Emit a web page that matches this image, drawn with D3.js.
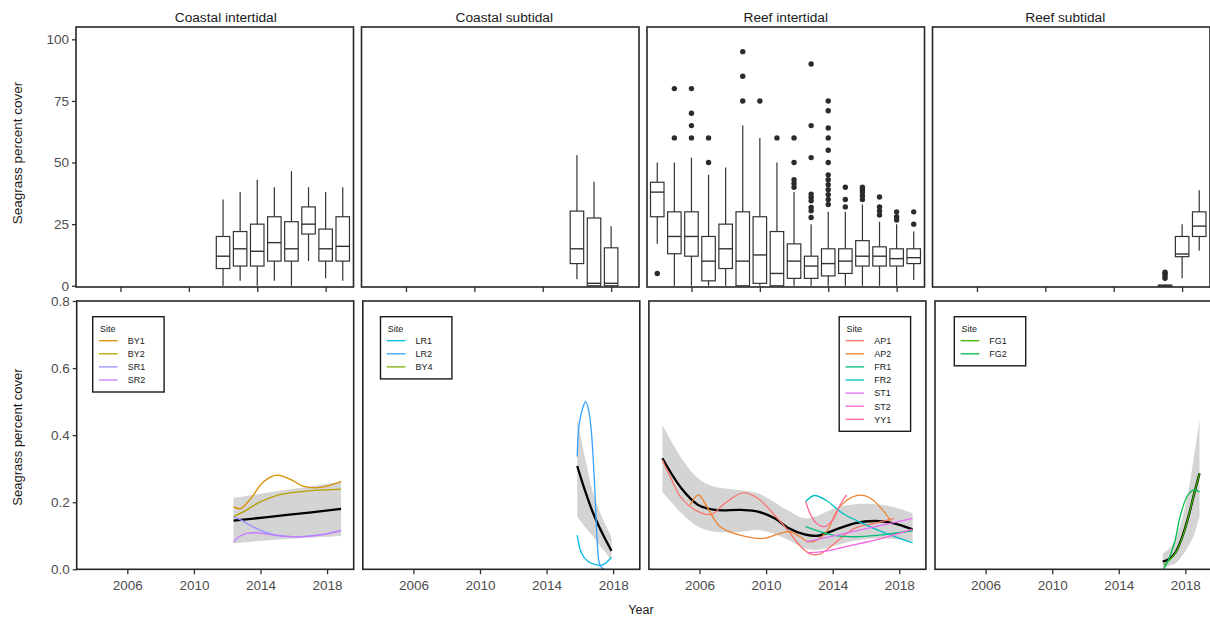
<!DOCTYPE html>
<html>
<head>
<meta charset="utf-8">
<script src="https://cdn.jsdelivr.net/npm/d3@7"></script>
<style>
body { margin: 0; background: #fff; }
svg { font-family: "Liberation Sans", Arial, Helvetica, sans-serif; }
.tick line { stroke: #333; }
.tick text { fill: #4d4d4d; font-size: 13.5px; }
</style>
</head>
<body>
<svg id="chart" width="1210" height="618"></svg>
<script>
var habitats = ["Coastal intertidal", "Coastal subtidal", "Reef intertidal", "Reef subtidal"];
var yearTicks = [2006, 2010, 2014, 2018];
var coverTicks = [0, 25, 50, 75, 100];
var propTicks = [0, 0.2, 0.4, 0.6, 0.8];

// box stats per year: [year, lower whisker, q1, median, q3, upper whisker, outliers]
var boxCoastalInter = [
    [2012, 0, 7, 12, 20, 35, []],
    [2013, 2, 8, 15, 22, 38, []],
    [2014, 0, 8, 14, 25, 43, []],
    [2015, 2, 10, 17.5, 28, 40, []],
    [2016, 0, 10, 15, 26, 46.5, []],
    [2017, 10, 21, 25, 32, 40, []],
    [2018, 3, 10, 15, 23, 38, []],
    [2019, 2, 10, 16, 28, 40, []]
];
var boxCoastalSub = [
    [2016, 2.6, 9, 15, 30.3, 53, []],
    [2017, 0, 0, 1, 27.5, 42.2, []],
    [2018, 0, 0, 1, 15.4, 24.2, []]
];
var boxReefInter = [
    [2004, 17, 28, 38, 42, 50, [5]],
    [2005, 0, 13, 20, 30, 50, [60, 80]],
    [2006, 0, 12, 20, 30, 52, [60, 65, 70, 80]],
    [2007, 0, 2, 10, 20, 45, [50, 60]],
    [2008, 0, 7, 15, 25, 48, []],
    [2009, 0, 0, 10, 30, 65, [75, 85, 95]],
    [2010, 0, 1, 12.5, 28, 60, [75]],
    [2011, 0, 0, 5, 22, 50, [60]],
    [2012, 0, 3, 10, 17, 38, [40, 41.5, 43, 50, 60]],
    [2013, 0, 3, 8, 12, 25, [27.7, 30.4, 31.8, 34.5, 35.9, 37.2, 52, 65, 90]],
    [2014, 0, 4, 9, 15, 30, [33, 35, 37, 39, 41, 43, 45, 50, 55, 60, 64, 71, 75]],
    [2015, 0, 5, 10, 15, 30, [32, 35, 40]],
    [2016, 0, 8, 12, 18.3, 33, [35, 36.5, 38, 39, 40]],
    [2017, 0, 8, 12, 15.8, 26, [28.7, 30.4, 32, 36]],
    [2018, 0, 8, 11, 15, 25, [26.7, 28, 30]],
    [2019, 2.3, 9, 11.4, 15, 22, [25, 30]]
];
var boxReefSub = [
    [2017, 0, 0, 0, 0.3, 0.5, [3, 4, 5, 5.5]],
    [2018, 3, 11.8, 12.9, 20, 25, []],
    [2019, 14.2, 20, 24.2, 30, 38.8, []]
];

// smoothed proportion per site: [year, value]
var curveBY1 = [[2012.38,0.186],[2012.8,0.181],[2013.4,0.21],[2014.2,0.262],[2015.0,0.281],[2015.8,0.268],[2016.6,0.247],[2017.3,0.243],[2018.0,0.248],[2018.84,0.262]];
var curveBY2 = [[2012.38,0.157],[2013.1,0.175],[2013.9,0.199],[2014.6,0.214],[2015.3,0.224],[2016.1,0.23],[2016.9,0.234],[2017.9,0.237],[2018.84,0.239]];
var curveSR1 = [[2012.38,0.157],[2012.9,0.145],[2013.5,0.128],[2014.3,0.11],[2015.2,0.1],[2016.3,0.097],[2017.3,0.101],[2018.1,0.107],[2018.84,0.115]];
var curveSR2 = [[2012.38,0.081],[2012.7,0.097],[2013.2,0.107],[2013.7,0.109],[2014.5,0.104],[2015.5,0.098],[2016.5,0.097],[2017.5,0.101],[2018.84,0.116]];
var curveLR1 = [[2015.84,0.102],[2016.1,0.048],[2016.5,0.023],[2017.0,0.013],[2017.4,0.014],[2017.9,0.036]];
var curveLR2 = [[2015.84,0.336],[2016.0,0.445],[2016.36,0.5],[2016.56,0.465],[2016.7,0.405],[2016.9,0.236],[2017.04,0.087],[2017.2,0.013],[2017.45,0.0]];
var curveBY4 = [];
var curveAP1 = [[2003.77,0.326],[2004.3,0.27],[2004.92,0.212],[2005.92,0.172],[2006.72,0.164],[2007.52,0.197],[2008.62,0.228],[2009.5,0.212],[2010.5,0.162],[2011.3,0.117],[2012.1,0.067],[2012.7,0.045],[2013.3,0.047],[2014.1,0.077],[2015.3,0.122],[2016.5,0.137],[2017.7,0.152]];
var curveAP2 = [[2005.44,0.192],[2005.94,0.222],[2006.44,0.187],[2007.24,0.127],[2008.44,0.102],[2009.84,0.092],[2010.84,0.107],[2011.44,0.112],[2012.04,0.097],[2012.54,0.082],[2013.04,0.087],[2013.63,0.112],[2014.43,0.187],[2015.43,0.22],[2016.2,0.214],[2017.0,0.177],[2017.5,0.142]];
var curveFR1 = [[2012.37,0.127],[2014.0,0.102],[2015.4,0.097],[2016.8,0.102],[2018.8,0.115]];
var curveFR2 = [[2012.37,0.202],[2012.9,0.22],[2013.6,0.206],[2014.6,0.167],[2015.8,0.137],[2017.2,0.107],[2018.8,0.079]];
var curveST1 = [[2012.4,0.082],[2014.0,0.099],[2015.6,0.117],[2017.2,0.134],[2018.8,0.152]];
var curveST2 = [[2012.5,0.05],[2013.3,0.052],[2015.0,0.07],[2017.0,0.093],[2018.8,0.12]];
var curveYY1 = [[2012.37,0.202],[2012.7,0.16],[2013.03,0.137],[2013.5,0.127],[2014.0,0.147],[2014.5,0.197],[2014.83,0.222]];
var curveFG1 = [[2016.7,0.012],[2017.0,0.025],[2017.4,0.048],[2017.8,0.093],[2018.2,0.16],[2018.5,0.22],[2018.85,0.286]];
var curveFG2 = [[2016.7,0.0],[2017.0,0.03],[2017.35,0.08],[2017.7,0.16],[2018.1,0.217],[2018.5,0.237],[2018.85,0.231]];

// overall smoother per habitat: [year, fit, lower, upper]
var fitCoastalInter = [[2012.38,0.145,0.078,0.213],[2015.6,0.162,0.09,0.237],[2018.84,0.18,0.099,0.261]];
var fitCoastalSub = [[2015.84,0.308,0.157,0.45],[2016.3,0.236,0.127,0.336],[2016.8,0.167,0.097,0.227],[2017.4,0.102,0.058,0.147],[2017.9,0.055,0.028,0.097]];
var fitReefInter = [[2003.77,0.331,0.231,0.43],[2004.92,0.241,0.167,0.331],[2005.92,0.192,0.127,0.271],[2006.92,0.177,0.112,0.246],[2008.51,0.177,0.112,0.236],[2009.51,0.172,0.117,0.227],[2010.51,0.152,0.105,0.2],[2011.31,0.124,0.088,0.175],[2012.31,0.104,0.063,0.152],[2013.11,0.1,0.058,0.16],[2014.1,0.117,0.07,0.182],[2015.3,0.137,0.085,0.194],[2016.5,0.144,0.092,0.194],[2017.7,0.137,0.09,0.185],[2018.8,0.119,0.082,0.167]];
var fitReefSub = [[2016.64,0.023,0.003,0.048],[2017.0,0.03,0.01,0.06],[2017.4,0.05,0.018,0.09],[2017.8,0.095,0.04,0.15],[2018.2,0.16,0.07,0.24],[2018.5,0.22,0.1,0.33],[2018.85,0.286,0.157,0.445]];

var boxes = [boxCoastalInter, boxCoastalSub, boxReefInter, boxReefSub];
var fits = [fitCoastalInter, fitCoastalSub, fitReefInter, fitReefSub];
var siteNames = [["BY1","BY2","SR1","SR2"], ["LR1","LR2","BY4"], ["AP1","AP2","FR1","FR2","ST1","ST2","YY1"], ["FG1","FG2"]];
var siteCurves = {BY1: curveBY1, BY2: curveBY2, SR1: curveSR1, SR2: curveSR2, LR1: curveLR1, LR2: curveLR2, BY4: curveBY4,
    AP1: curveAP1, AP2: curveAP2, FR1: curveFR1, FR2: curveFR2, ST1: curveST1, ST2: curveST2, YY1: curveYY1, FG1: curveFG1, FG2: curveFG2};

// colours (ggplot hue palette)
var siteColors = {BY1: "#D89000", BY2: "#B5A000", SR1: "#9590FF", SR2: "#C77CFF", LR1: "#00BAE0", LR2: "#35A2FF", BY4: "#7CAE00",
    AP1: "#F8766D", AP2: "#EA8331", FR1: "#00BF7D", FR2: "#00BFC4", ST1: "#E76BF3", ST2: "#FA62DB", YY1: "#FF6C91", FG1: "#39B600", FG2: "#00BB4E"};

// layout
var topX0 = 76, topStep = 285.5, topW = 277.5, topY0 = 27, topY1 = 287;
var botX0 = 76.7, botStep = 286.1, botW = 277, botY0 = 301, botY1 = 569.3;
var titleShift = [11, 4, 0, -6];
var legendDx = [16, 17.7, 190.3, 19.3];
var legendY = 316.7, legendW = 71.4, rowH = 13.1;

var svg = d3.select("#chart");

var xTop = d3.scaleLinear().domain([2003.4, 2019.63]).range([0, topW]);
var yTop = d3.scaleLinear().domain([-0.5, 105]).range([topY1 - topY0, 0]);
var xBot = d3.scaleLinear().domain([2002.96, 2019.6]).range([0, botW]);
var yBot = d3.scaleLinear().domain([0, 0.8]).range([botY1 - botY0, 0]);

var boxW = 13.5;

habitats.forEach(function (hab, i) {
    // ---------- top row: boxplots ----------
    var gx = topX0 + i * topStep;
    var gTop = svg.append("g").attr("transform", "translate(" + gx + "," + topY0 + ")");

    var xaxis = d3.axisBottom(xTop).tickValues(yearTicks).tickSize(5).tickFormat("");
    gTop.append("g").attr("transform", "translate(0," + (topY1 - topY0) + ")").call(xaxis)
        .call(function (g) { g.select(".domain").remove(); })
        .selectAll("line").attr("stroke-width", 1.3);

    if (i === 0) {
        var yaxis = d3.axisLeft(yTop).tickValues(coverTicks).tickSize(4).tickPadding(3);
        gTop.append("g").call(yaxis)
            .call(function (g) { g.select(".domain").remove(); })
            .selectAll("line").attr("stroke-width", 1.3);
    }

    var bx = gTop.selectAll("g.box").data(boxes[i]).enter().append("g").attr("class", "box");
    bx.append("line")
        .attr("x1", function (d) { return xTop(d[0]); })
        .attr("x2", function (d) { return xTop(d[0]); })
        .attr("y1", function (d) { return yTop(d[1]); })
        .attr("y2", function (d) { return yTop(d[5]); })
        .attr("stroke", "#333").attr("stroke-width", 1.2);
    bx.append("rect")
        .attr("x", function (d) { return xTop(d[0]) - boxW / 2; })
        .attr("width", boxW)
        .attr("y", function (d) { return yTop(d[4]); })
        .attr("height", function (d) { return Math.max(0.8, yTop(d[2]) - yTop(d[4])); })
        .attr("fill", "#fff").attr("stroke", "#333").attr("stroke-width", 1.2);
    bx.append("line")
        .attr("x1", function (d) { return xTop(d[0]) - boxW / 2; })
        .attr("x2", function (d) { return xTop(d[0]) + boxW / 2; })
        .attr("y1", function (d) { return yTop(d[3]); })
        .attr("y2", function (d) { return yTop(d[3]); })
        .attr("stroke", "#333").attr("stroke-width", 1.4);
    bx.selectAll("circle").data(function (d) {
        return d[6].map(function (v) { return [d[0], v]; });
    }).enter().append("circle")
        .attr("cx", function (d) { return xTop(d[0]); })
        .attr("cy", function (d) { return yTop(d[1]); })
        .attr("r", 2.7).attr("fill", "#2b2b2b");

    gTop.append("rect").attr("width", topW).attr("height", topY1 - topY0)
        .attr("fill", "none").attr("stroke", "#262626").attr("stroke-width", 1.6);

    svg.append("text")
        .attr("x", gx + topW / 2 + titleShift[i]).attr("y", 21.5)
        .attr("text-anchor", "middle").attr("font-size", "13.7px").attr("fill", "#1a1a1a")
        .text(hab);

    // ---------- bottom row: smoothers ----------
    var bxp = botX0 + i * botStep;
    var gBot = svg.append("g").attr("transform", "translate(" + bxp + "," + botY0 + ")");

    svg.append("clipPath").attr("id", "clip" + i).append("rect")
        .attr("width", botW).attr("height", botY1 - botY0);
    var plotArea = gBot.append("g").attr("clip-path", "url(#clip" + i + ")");

    var area = d3.area().curve(d3.curveCatmullRom)
        .x(function (d) { return xBot(d[0]); })
        .y0(function (d) { return yBot(d[2]); })
        .y1(function (d) { return yBot(d[3]); });
    var line = d3.line().curve(d3.curveCatmullRom)
        .x(function (d) { return xBot(d[0]); })
        .y(function (d) { return yBot(d[1]); });

    plotArea.append("path").datum(fits[i]).attr("d", area).attr("fill", "#d4d4d4");

    plotArea.append("path").datum(fits[i]).attr("d", line)
        .attr("fill", "none").attr("stroke", "#000").attr("stroke-width", 2.3);

    siteNames[i].forEach(function (s) {
        if (siteCurves[s].length === 0) return;
        plotArea.append("path").datum(siteCurves[s]).attr("d", line)
            .attr("fill", "none").attr("stroke", siteColors[s]).attr("stroke-width", 1.3);
    });

    var xaxisB = d3.axisBottom(xBot).tickValues(yearTicks).tickSize(5).tickPadding(6).tickFormat(d3.format("d"));
    gBot.append("g").attr("transform", "translate(0," + (botY1 - botY0) + ")").call(xaxisB)
        .call(function (g) { g.select(".domain").remove(); })
        .selectAll("line").attr("stroke-width", 1.3);

    if (i === 0) {
        var yaxisB = d3.axisLeft(yBot).tickValues(propTicks).tickSize(4).tickPadding(3).tickFormat(d3.format(".1f"));
        gBot.append("g").call(yaxisB)
            .call(function (g) { g.select(".domain").remove(); })
            .selectAll("line").attr("stroke-width", 1.3);
    }

    gBot.append("rect").attr("width", botW).attr("height", botY1 - botY0)
        .attr("fill", "none").attr("stroke", "#262626").attr("stroke-width", 1.6);

    // legend
    var n = siteNames[i].length;
    var lg = svg.append("g").attr("transform", "translate(" + (bxp + legendDx[i]) + "," + legendY + ")");
    lg.append("rect").attr("width", legendW).attr("height", 24 + rowH * (n - 1) + 12)
        .attr("fill", "#fff").attr("stroke", "#1a1a1a").attr("stroke-width", 1.4);
    lg.append("text").attr("x", 7.3).attr("y", 15.5).attr("font-size", "9px").attr("fill", "#1a1a1a").text("Site");
    var rows = lg.selectAll("g.row").data(siteNames[i]).enter().append("g")
        .attr("transform", function (d, k) { return "translate(0," + (24 + k * rowH) + ")"; });
    rows.append("line").attr("x1", 6.3).attr("x2", 25).attr("y1", 0).attr("y2", 0)
        .attr("stroke", function (d) { return siteColors[d]; }).attr("stroke-width", 1.3);
    rows.append("text").attr("x", 35).attr("y", 3.3).attr("font-size", "9px").attr("fill", "#1a1a1a")
        .text(function (d) { return d; });
});

// axis titles
svg.append("text").attr("transform", "translate(22,153) rotate(-90)")
    .attr("text-anchor", "middle").attr("font-size", "13.5px").attr("fill", "#1a1a1a")
    .text("Seagrass percent cover");
svg.append("text").attr("transform", "translate(22,437) rotate(-90)")
    .attr("text-anchor", "middle").attr("font-size", "13px").attr("fill", "#1a1a1a")
    .text("Seagrass percent cover");
svg.append("text").attr("x", 641).attr("y", 614)
    .attr("text-anchor", "middle").attr("font-size", "12.5px").attr("fill", "#1a1a1a")
    .text("Year");
</script>
</body>
</html>
